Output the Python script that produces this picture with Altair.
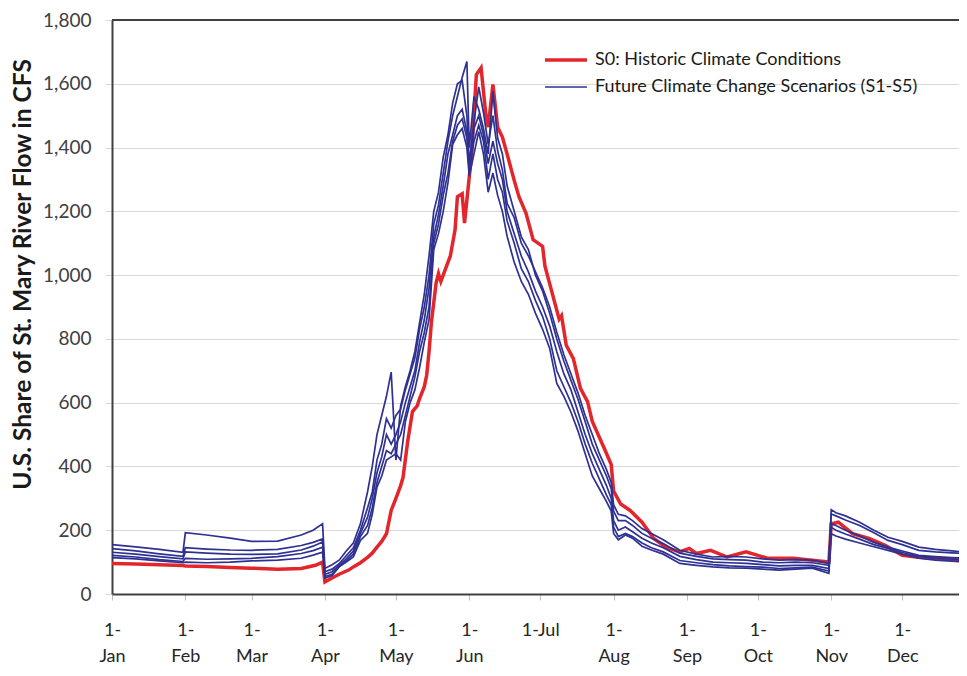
import altair as alt
import pandas as pd

months = ["Jan", "Feb", "Mar", "Apr", "May", "Jun", "Jul", "Aug", "Sep", "Oct", "Nov", "Dec"]
month_start_days = [0, 31, 59, 90, 120, 151, 181, 212, 243, 273, 304, 334]
y_ticks = [0, 200, 400, 600, 800, 1000, 1200, 1400, 1600, 1800]

label_s0 = "S0: Historic Climate Conditions"
label_fut = "Future Climate Change Scenarios (S1-S5)"

s0_days = [0, 10, 20, 30, 31, 40, 50, 59, 70, 80, 86, 89, 90, 93, 96, 100, 102, 105, 108, 110,
           112, 114, 116, 118, 120, 122, 123, 125, 127, 129, 130, 132, 133, 134, 135, 137, 138, 139, 141, 143,
           145, 146, 148, 149, 150, 152, 154, 156, 158, 159, 161, 163, 165, 167, 170, 172, 175, 178, 182, 183,
           186, 189, 190, 192, 195, 198, 201, 203, 208, 211, 212, 215, 219, 224, 229, 234, 240, 244, 247, 253,
           260, 268, 277, 288, 296, 303, 304, 307, 313, 320, 327, 334, 341, 348, 362]
s0_flow = [96, 94, 92, 89, 88, 86, 83, 81, 78, 80, 90, 100, 38, 50, 62, 75, 85, 98, 115, 128,
           147, 165, 189, 262, 300, 340, 365, 480, 572, 590, 613, 650, 686, 760, 852, 976, 1005, 980, 1020, 1060,
           1142, 1246, 1255, 1163, 1235, 1380, 1629, 1650, 1504, 1464, 1598, 1464, 1433, 1380, 1297, 1246, 1194, 1111, 1090, 1028,
           945, 862, 873, 780, 738, 645, 603, 541, 458, 406, 323, 282, 262, 225, 174, 147, 132, 143, 127, 137,
           116, 132, 112, 112, 106, 100, 220, 225, 189, 174, 152, 121, 115, 112, 106]

fut_days = [0, 10, 20, 30, 31, 40, 50, 59, 70, 80, 85, 89, 90, 93, 96, 99, 102, 105, 108, 110,
            112, 114, 116, 118, 120, 122, 124, 126, 128, 130, 132, 134, 136, 138, 140, 142, 144, 146, 148, 150,
            151, 153, 155, 157, 159, 161, 163, 165, 167, 170, 173, 176, 179, 182, 185, 188, 191, 194, 197, 200,
            203, 206, 209, 211, 212, 214, 217, 220, 224, 228, 233, 240, 247, 254, 261, 268, 275, 282, 289, 296,
            303, 304, 306, 310, 316, 322, 328, 334, 341, 348, 355, 362]
s1_flow = [155, 148, 140, 131, 192, 185, 175, 165, 166, 185, 200, 220, 80, 92, 106, 135, 160, 220, 320, 400,
           500, 560, 620, 696, 420, 590, 650, 700, 760, 850, 940, 1060, 1200, 1260, 1370, 1440, 1540, 1600, 1610, 1500,
           1350, 1480, 1590, 1510, 1410, 1500, 1390, 1330, 1225, 1180, 1100, 1060, 1010, 960, 900, 821, 750, 690, 630, 560,
           500, 440, 390, 350, 280, 250, 245, 230, 205, 190, 170, 137, 125, 116, 118, 116, 110, 106, 108, 106,
           96, 264, 255, 245, 225, 200, 178, 165, 147, 140, 135, 131]
s2_flow = [142, 135, 126, 118, 145, 141, 138, 137, 140, 152, 162, 173, 70, 78, 95, 120, 145, 200, 270, 320,
           420, 470, 550, 520, 560, 580, 640, 690, 740, 830, 900, 1000, 1160, 1220, 1320, 1420, 1500, 1560, 1620, 1670,
           1400, 1560, 1520, 1460, 1380, 1577, 1430, 1380, 1280, 1200, 1120, 1080, 1000, 950, 880, 800, 730, 670, 610, 540,
           470, 420, 370, 330, 260, 230, 230, 215, 190, 175, 158, 128, 118, 110, 108, 106, 100, 98, 100, 98,
           90, 251, 245, 232, 215, 192, 168, 155, 137, 132, 129, 127]
s3_flow = [131, 125, 117, 110, 132, 128, 125, 124, 126, 138, 150, 163, 62, 70, 90, 110, 135, 190, 240, 300,
           380, 430, 500, 470, 500, 540, 600, 650, 700, 790, 860, 960, 1120, 1190, 1280, 1380, 1440, 1500, 1520, 1450,
           1320, 1460, 1500, 1440, 1350, 1420, 1350, 1300, 1200, 1130, 1060, 1010, 950, 900, 840, 760, 690, 640, 570, 500,
           440, 390, 340, 300, 230, 200, 210, 195, 175, 160, 145, 118, 108, 100, 98, 96, 92, 88, 90, 90,
           80, 220, 215, 200, 182, 162, 147, 135, 121, 117, 114, 112]
s4_flow = [121, 116, 108, 102, 112, 109, 110, 112, 117, 127, 136, 147, 55, 62, 86, 104, 125, 180, 215, 270,
           350, 400, 450, 440, 470, 500, 560, 620, 680, 760, 820, 900, 1100, 1160, 1250, 1320, 1420, 1470, 1490, 1430,
           1330, 1420, 1470, 1420, 1300, 1380, 1300, 1260, 1170, 1100, 1020, 980, 920, 870, 800, 700, 650, 600, 540, 470,
           410, 360, 310, 280, 210, 180, 190, 180, 160, 145, 132, 105, 98, 92, 88, 86, 84, 80, 82, 84,
           72, 209, 200, 188, 172, 155, 143, 130, 118, 112, 109, 106]
s5_flow = [114, 110, 104, 98, 100, 98, 100, 104, 106, 112, 122, 131, 50, 58, 85, 100, 116, 168, 190, 250,
           335, 370, 420, 430, 440, 420, 540, 600, 640, 710, 790, 860, 1080, 1130, 1200, 1290, 1410, 1440, 1460, 1400,
           1310, 1380, 1450, 1380, 1260, 1320, 1250, 1200, 1122, 1040, 980, 940, 880, 830, 770, 660, 620, 570, 510, 440,
           370, 330, 290, 260, 190, 170, 185, 175, 150, 138, 125, 96, 90, 85, 82, 81, 78, 75, 78, 81,
           65, 189, 182, 172, 160, 148, 137, 125, 112, 106, 103, 100]

RED = "#e3262c"
BLUE = "#2e3192"

rows = []
for d, v in zip(s0_days, s0_flow):
    rows.append({"day": d, "flow": v, "series": "S0", "group": label_s0})
for name, vals in [("S1", s1_flow), ("S2", s2_flow), ("S3", s3_flow), ("S4", s4_flow), ("S5", s5_flow)]:
    for d, v in zip(fut_days, vals):
        rows.append({"day": d, "flow": v, "series": name, "group": label_fut})
df = pd.DataFrame(rows)

FONT = "Lato"
months_js = "[" + ",".join("'" + m + "'" for m in months) + "]"
days_js = "[" + ",".join(str(d) for d in month_start_days) + "]"
label_expr = ("datum.value == 181 ? '1-Jul' : ['1-', " + months_js + "[indexof(" + days_js + ", datum.value)]]")

x_enc = alt.X("day:Q",
              scale=alt.Scale(domain=[0, 358], nice=False, zero=False),
              axis=alt.Axis(values=month_start_days, labelExpr=label_expr, grid=False,
                            tickSize=6, tickColor="#bfbfbf", domainColor="#404040", domainWidth=2,
                            labelFont=FONT, labelFontSize=18, labelColor="#262626",
                            labelPadding=21, labelLineHeight=26, labelBaseline="top",
                            labelOverlap=False, labelFlush=False, title=None))
y_enc = alt.Y("flow:Q",
              scale=alt.Scale(domain=[0, 1800], nice=False),
              axis=alt.Axis(values=y_ticks, format=",d", grid=True, gridColor="#d9d9d9",
                            tickSize=7, tickColor="#d9d9d9", domainColor="#404040", domainWidth=2,
                            labelFont=FONT, labelFontSize=19, labelColor="#404040", labelPadding=14,
                            title="U.S. Share of St. Mary River Flow in CFS",
                            titleFont=FONT, titleFontSize=24.5, titleFontWeight="bold", titleColor="#1a1a1a",
                            titleX=-89, titleY=254, titleAngle=270, titleAlign="center", titleBaseline="middle"))

color_enc = alt.Color("group:N",
                      scale=alt.Scale(domain=[label_s0, label_fut], range=[RED, BLUE]),
                      legend=alt.Legend(title=None))
width_enc = alt.StrokeWidth("group:N",
                            scale=alt.Scale(domain=[label_s0, label_fut], range=[3.5, 1.7]),
                            legend=alt.Legend(title=None))

red_layer = alt.Chart(df[df["series"] == "S0"]).mark_line(clip=True).encode(
    x=x_enc, y=y_enc, color=color_enc, strokeWidth=width_enc, detail="series:N")
blue_layer = alt.Chart(df[df["series"] != "S0"]).mark_line(clip=True).encode(
    x=x_enc, y=y_enc, color=color_enc, strokeWidth=width_enc, detail="series:N")
top_rule = alt.Chart(pd.DataFrame({"top": [1800]})).mark_rule(color="#404040", strokeWidth=2).encode(
    y=alt.datum(1800))

chart = alt.layer(top_rule, red_layer, blue_layer).properties(
    width=847, height=574,
    autosize=alt.AutoSizeParams(type="none"),
    padding={"left": 104, "top": 12, "right": 0, "bottom": 73},
).configure_view(stroke=None).configure_legend(
    orient="none", legendX=445, legendY=31,
    symbolType="M-4,0H4", symbolSize=110,
    labelFont=FONT, labelFontSize=18, labelColor="#1a1a1a", labelOffset=20, labelLimit=500,
    rowPadding=9, padding=0
)

chart.save("out.html", embed_options={"renderer": "svg", "actions": False})
